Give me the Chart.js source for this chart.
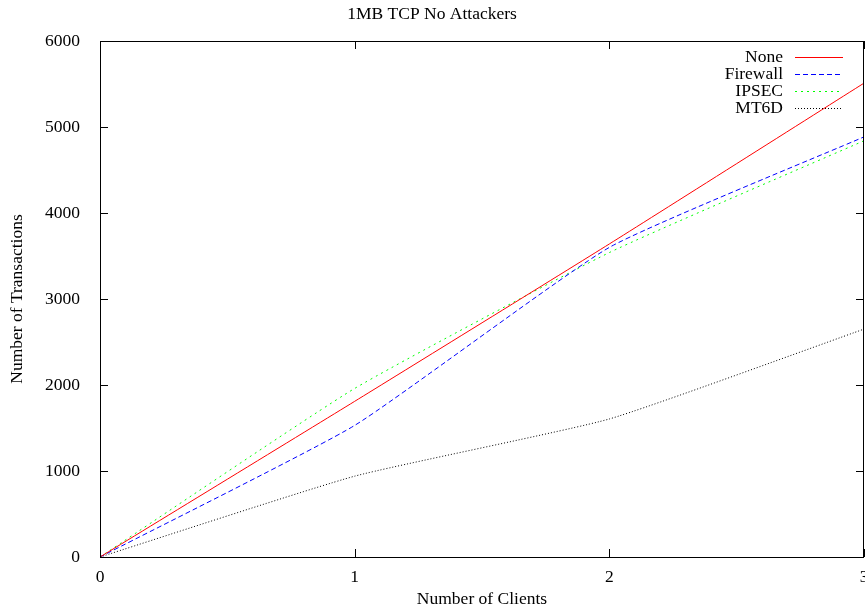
<!DOCTYPE html>
<html>
<head>
<meta charset="utf-8">
<script src="https://cdn.jsdelivr.net/npm/chart.js@4/dist/chart.umd.min.js"></script>
<style>
  html, body { margin: 0; padding: 0; background: #fff; }
  #wrap { width: 865px; height: 610px; }
</style>
</head>
<body>
<div id="wrap"><canvas id="chart"></canvas></div>
<script>
// values
const clients = [0, 1, 2, 3];
const noneTx = [0, 1810, 3640, 5510];
const firewallTx = [0, 1530, 3600, 4885];
const ipsecTx = [0, 1960, 3540, 4840];
const mt6dTx = [0, 940, 1605, 2650];
const yTicks = [0, 1000, 2000, 3000, 4000, 5000, 6000];

const serif = '"Liberation Serif", "DejaVu Serif", serif';
const fontSize = 17.5;

const series = [
    { label: 'None', data: noneTx, color: '#ff0000', dash: [] },
    { label: 'Firewall', data: firewallTx, color: '#0000ff', dash: [5, 3] },
    { label: 'IPSEC', data: ipsecTx, color: '#00ff00', dash: [2, 4] },
    { label: 'MT6D', data: mt6dTx, color: '#000000', dash: [1, 2] }
];

// gnuplot-like frame: full box, inward ticks on all sides, legend in the corner
const frame = {
    id: 'frame',
    afterDatasetsDraw(chart) {
        const { ctx, chartArea: a, scales } = chart;
        ctx.save();
        ctx.strokeStyle = '#000';
        ctx.lineWidth = 1;
        ctx.setLineDash([]);
        ctx.strokeRect(a.left + 0.5, a.top + 0.5, a.right - a.left - 1, a.bottom - a.top);
        ctx.beginPath();
        yTicks.forEach(v => {
            const y = Math.round(scales.y.getPixelForValue(v)) + 0.5;
            ctx.moveTo(a.left, y); ctx.lineTo(a.left + 8, y);
            ctx.moveTo(a.right, y); ctx.lineTo(a.right - 8, y);
        });
        clients.forEach(v => {
            const x = Math.round(scales.x.getPixelForValue(v)) + 0.5;
            ctx.moveTo(x, a.bottom); ctx.lineTo(x, a.bottom - 8);
            ctx.moveTo(x, a.top); ctx.lineTo(x, a.top + 8);
        });
        ctx.stroke();

        // legend
        ctx.font = fontSize + 'px ' + serif;
        ctx.textAlign = 'right';
        ctx.textBaseline = 'middle';
        series.forEach((s, i) => {
            const y = 57 + i * 17;
            ctx.fillStyle = '#000';
            ctx.fillText(s.label, 783, y);
            ctx.strokeStyle = s.color;
            ctx.setLineDash(s.dash);
            ctx.beginPath();
            ctx.moveTo(795, y + 0.5);
            ctx.lineTo(843, y + 0.5);
            ctx.stroke();
        });
        ctx.restore();
    }
};

new Chart(document.getElementById('chart'), {
    type: 'line',
    data: {
        datasets: series.map(s => ({
            label: s.label,
            data: clients.map((c, i) => ({ x: c, y: s.data[i] })),
            borderColor: s.color,
            borderDash: s.dash,
            borderWidth: 1,
            pointRadius: 0,
            fill: false,
            tension: 0.15
        }))
    },
    options: {
        responsive: true,
        maintainAspectRatio: false,
        animation: false,
        layout: { padding: { left: 0, right: 1, top: 0, bottom: 0 } },
        plugins: {
            legend: { display: false },
            tooltip: { enabled: false },
            title: {
                display: true,
                text: '1MB TCP No Attackers',
                color: '#000',
                font: { family: serif, size: fontSize, weight: 'normal', lineHeight: 1.2 },
                padding: { top: 4, bottom: 16 }
            }
        },
        scales: {
            x: {
                type: 'linear',
                min: 0,
                max: 3,
                afterFit: s => { s.height = 53; s.paddingRight = 0; s.paddingLeft = 0; },
                afterBuildTicks: s => { s.ticks = clients.map(v => ({ value: v })); },
                grid: { display: false },
                border: { display: false },
                ticks: {
                    color: '#000',
                    padding: 2,
                    callback: v => String(v),
                    font: { family: serif, size: fontSize }
                },
                title: {
                    display: true,
                    text: 'Number of Clients',
                    color: '#000',
                    font: { family: serif, size: fontSize },
                    padding: { top: 0, bottom: 0 }
                }
            },
            y: {
                min: 0,
                max: 6000,
                afterFit: s => { s.width = 100; },
                afterBuildTicks: s => { s.ticks = yTicks.map(v => ({ value: v })); },
                grid: { display: false },
                border: { display: false },
                ticks: {
                    color: '#000',
                    padding: 12,
                    callback: v => String(v),
                    font: { family: serif, size: fontSize }
                },
                title: {
                    display: true,
                    text: 'Number of Transactions',
                    color: '#000',
                    font: { family: serif, size: fontSize },
                    padding: { top: 7, bottom: 0 }
                }
            }
        }
    },
    plugins: [frame]
});
</script>
</body>
</html>
